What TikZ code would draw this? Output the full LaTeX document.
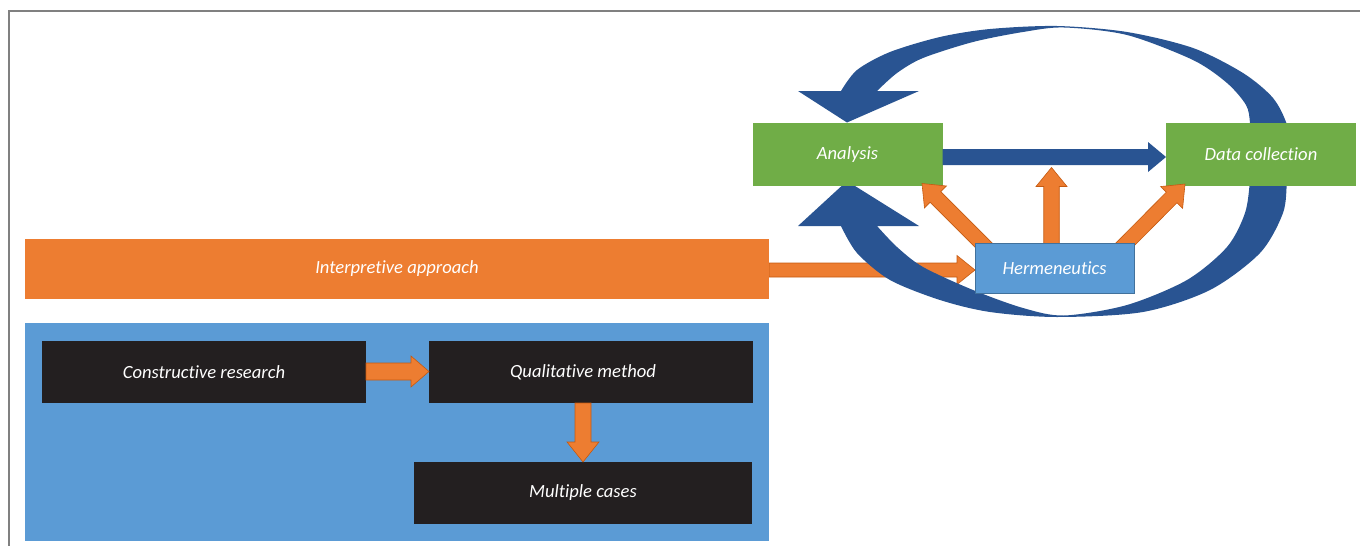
\documentclass[tikz,border=0pt]{standalone}
\usepackage{fontspec}
\setmainfont[Ligatures=NoCommon]{Carlito}
\usetikzlibrary{calc}

\definecolor{framegray}{RGB}{128,128,128}
\definecolor{leaf}{RGB}{112,173,71}
\definecolor{navy}{RGB}{41,84,146}
\definecolor{sky}{RGB}{91,155,213}
\definecolor{skyline}{RGB}{65,113,156}
\definecolor{tangerine}{RGB}{237,125,49}
\definecolor{rust}{RGB}{197,90,17}
\definecolor{ink}{RGB}{35,31,32}

\pgfdeclarelayer{under}
\pgfdeclarelayer{loop}
\pgfdeclarelayer{over}
\pgfsetlayers{under,loop,main,over}

% block arrow: style, from, to, shaft half width, head half width, head length
\newcommand\fatarrow[6]{%
  \coordinate (fa-b) at ($(#3)!#6!(#2)$);
  \path[#1] ($(#2)!#4!90:(#3)$) -- ($(fa-b)!#4!90:(#3)$) -- ($(fa-b)!#5!90:(#3)$)
    -- (#3) -- ($(fa-b)!#5!-90:(#3)$) -- ($(fa-b)!#4!-90:(#3)$) -- ($(#2)!#4!-90:(#3)$) -- cycle;}

\begin{document}
\begin{tikzpicture}[x=1pt,y=-1pt,
  labelbox/.style={inner sep=0pt, outer sep=0pt, text=white,
    font=\itshape\fontsize{18.6}{21}\selectfont},
  greenbox/.style={labelbox, fill=leaf, minimum width=190pt, minimum height=63pt},
  darkbox/.style={labelbox, fill=ink, minimum height=62pt},
  orangearrow/.style={fill=tangerine, draw=rust, line width=0.6pt, line join=miter},
  navyarrow/.style={fill=navy}]

\useasboundingbox (0,0) rectangle (1360,546);
\draw[framegray, line width=1.6pt] (9,546) -- (9,11) -- (1360,11);

% left column
\node[labelbox, fill=tangerine, minimum width=744pt, minimum height=60pt] (interp) at (397,269) {Interpretive approach};
\node[fill=sky, inner sep=0pt, outer sep=0pt, minimum width=744pt, minimum height=218pt] (panel) at (397,432) {};
\node[darkbox, minimum width=324pt] (cr) at (204,372) {Constructive research};
\node[darkbox, minimum width=324pt] (qm) at (591,372) {\hspace*{-16pt}Qualitative method};
\node[darkbox, minimum width=338pt] (mc) at (583,493) {Multiple cases};

% cycle
\node[greenbox] (ana) at (847.5,154.5) {Analysis};
\node[greenbox] (dc) at (1261,154.5) {Data collection};
\begin{pgfonlayer}{over}
\node[labelbox, fill=sky, draw=skyline, line width=0.8pt, minimum width=159pt, minimum height=50pt] (herm) at (1054.5,268) {Hermeneutics};
\end{pgfonlayer}

% connectors in the left column
\coordinate (ie) at ($(interp.east)+(0,1)$);
\coordinate (hw) at (herm.west |- ie);
\begin{pgfonlayer}{under}
\fatarrow{orangearrow}{ie}{hw}{7pt}{14.5pt}{18pt}
\end{pgfonlayer}
\coordinate (crq) at ($(cr.east)+(0,-0.5)$);
\coordinate (qmw) at ($(qm.west)+(0,-0.5)$);
\fatarrow{orangearrow}{crq}{qmw}{8.5pt}{15.5pt}{18pt}
\coordinate (qms) at (mc.north |- qm.south);
\fatarrow{orangearrow}{qms}{mc.north}{8pt}{16pt}{20pt}

% large loop between the two green boxes
\begin{pgfonlayer}{loop}
\fill[navy] plot[smooth, tension=0.5] coordinates {(841,91) (857,70) (890,52) (940,37) (990,29) (1057,26) (1127,32) (1193,48) (1243,73) (1273,98) (1287,125) (1289,150)}
  -- plot[smooth, tension=0.5] coordinates {(1251,150) (1250,123) (1246,105) (1227,83) (1193,60) (1127,35) (1064,27.5) (1023,32) (973,42) (923,58) (897,73) (877,91)}
  -- (919,91) -- (847,122.5) -- (798,91) -- cycle;
\fill[navy] plot[smooth, tension=0.5] coordinates {(841,226) (857,253) (890,280) (940,300) (990,312) (1057,317) (1143,312) (1210,290) (1260,253) (1283,213) (1287,180) (1289,155)}
  -- plot[smooth, tension=0.5] coordinates {(1251,155) (1250,180) (1245,213) (1227,247) (1187,280) (1127,305) (1064,315.5) (1023,308) (973,290) (923,267) (897,247) (877,226)}
  -- (919,226) -- (847,181) -- (798,226) -- cycle;
\end{pgfonlayer}

% straight cycle arrow
\coordinate (ae) at ($(ana.east)+(0,2.5)$);
\coordinate (dw) at ($(dc.west)+(0,2.5)$);
\fatarrow{navyarrow}{ae}{dw}{8pt}{15pt}{18pt}

% arrows leaving the hermeneutics box
\coordinate (hl) at ($(herm.north west)+(13,6.5)$);
\coordinate (al) at ($(ana.south east)+(-20.5,-2.5)$);
\fatarrow{orangearrow}{hl}{al}{7.5pt}{15.5pt}{19pt}
\coordinate (hn) at ($(herm.north)+(-3,5)$);
\coordinate (hu) at ($(herm.north)+(-3,-75.5)$);
\fatarrow{orangearrow}{hn}{hu}{7.75pt}{15.5pt}{19pt}
\coordinate (hr) at ($(herm.north east)+(-14.5,7)$);
\coordinate (dl) at ($(dc.south west)+(19,-2)$);
\fatarrow{orangearrow}{hr}{dl}{7.5pt}{15.5pt}{19pt}
\end{tikzpicture}
\end{document}
